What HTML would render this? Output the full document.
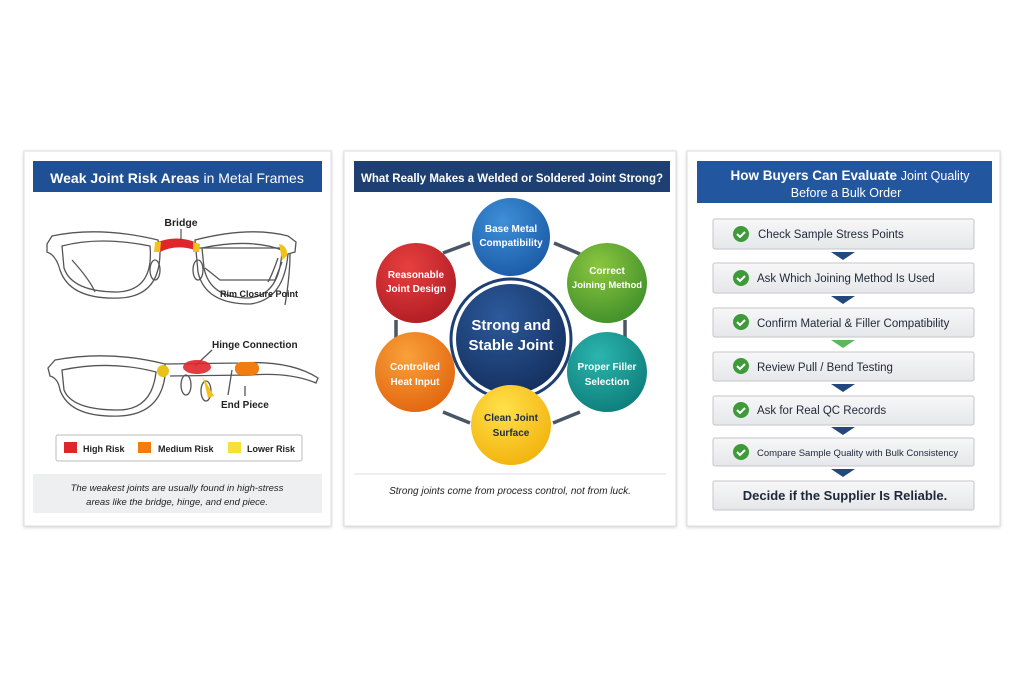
<!DOCTYPE html>
<html><head><meta charset="utf-8"><style>
body{margin:0;background:#fff}
svg{display:block}
text{font-family:"Liberation Sans",sans-serif}
</style></head><body>
<svg width="1024" height="683" viewBox="0 0 1024 683" xmlns="http://www.w3.org/2000/svg">
<defs>
<filter id="sh" x="-5%" y="-5%" width="110%" height="110%"><feDropShadow dx="0" dy="1" stdDeviation="1.5" flood-color="#000" flood-opacity="0.18"/></filter>
<radialGradient id="gb" cx="40%" cy="30%" r="75%"><stop offset="0" stop-color="#3f8fd8"/><stop offset="1" stop-color="#1a5aa6"/></radialGradient>
<radialGradient id="gg" cx="40%" cy="30%" r="75%"><stop offset="0" stop-color="#8cc640"/><stop offset="1" stop-color="#3f8f2a"/></radialGradient>
<radialGradient id="gt" cx="40%" cy="30%" r="75%"><stop offset="0" stop-color="#2cb5ad"/><stop offset="1" stop-color="#0d7d7a"/></radialGradient>
<radialGradient id="gy" cx="40%" cy="30%" r="75%"><stop offset="0" stop-color="#ffe14a"/><stop offset="1" stop-color="#f2b20c"/></radialGradient>
<radialGradient id="go" cx="40%" cy="30%" r="75%"><stop offset="0" stop-color="#f9a13a"/><stop offset="1" stop-color="#e2650f"/></radialGradient>
<radialGradient id="gr" cx="40%" cy="30%" r="75%"><stop offset="0" stop-color="#e84040"/><stop offset="1" stop-color="#b01c24"/></radialGradient>
<radialGradient id="gn" cx="40%" cy="30%" r="75%"><stop offset="0" stop-color="#2c5a9c"/><stop offset="1" stop-color="#142f5e"/></radialGradient>
<linearGradient id="rowg" x1="0" y1="0" x2="0" y2="1"><stop offset="0" stop-color="#f7f7f8"/><stop offset="1" stop-color="#e6e7ea"/></linearGradient>
</defs>

<!-- Panel 1 -->
<rect x="24" y="151" width="307" height="375" fill="#fff" stroke="#dcdde0" filter="url(#sh)"/>
<rect x="33" y="161" width="289" height="31" fill="#1f4f94"/>
<text x="177" y="183" text-anchor="middle" fill="#fff" font-size="14" font-weight="bold">Weak Joint Risk Areas <tspan font-weight="normal">in Metal Frames</tspan></text>

<g fill="none" stroke="#555" stroke-width="1.3">
<path d="M47 244 L52 236 Q100 226 158 240 L160 252 Q160 296 120 298 Q70 300 60 270 Q56 255 47 252 Z"/>
<path d="M62 246 Q100 236 150 246 Q154 290 118 292 Q72 292 64 268 Z"/>
<path d="M195 240 Q250 226 288 236 L296 242 L295 252 L288 254 Q284 300 250 304 Q205 304 198 272 Z"/>
<path d="M202 248 Q250 238 282 250 Q280 296 248 298 Q210 298 204 268 Z"/>
<path d="M72 260 Q90 280 95 292"/>
<path d="M278 258 Q272 275 268 282"/>
<path d="M290 254 Q290 275 285 305"/>
<ellipse cx="155" cy="270" rx="5" ry="10"/>
<ellipse cx="198" cy="270" rx="5" ry="10"/>
<path d="M195 248 L285 248"/>
<path d="M205 268 L220 280 L275 280 L282 262"/>
<path d="M48 368 L55 360 Q110 350 165 364 L165 376 Q160 414 120 416 Q70 418 60 390 Q58 378 50 376 Z"/>
<path d="M62 370 Q110 360 156 372 Q152 410 118 410 Q72 410 64 390 Z"/>
<path d="M165 364 L240 363 Q290 360 318 378 L316 383 Q290 372 250 375 L170 376"/>
<ellipse cx="186" cy="385" rx="5" ry="10"/>
<ellipse cx="206" cy="391" rx="5" ry="10"/>
<path d="M245 386 L245 396"/>
<path d="M232 370 L228 395"/>
<path d="M195 366 L212 350"/>
</g>
<path d="M158 242 Q176 235 195 242 L195 250 Q176 244 160 252 Z" fill="#e0262a"/>
<path d="M155 242 L161 242 L160 252 L154 252 Z" fill="#f2c21a"/>
<path d="M193 242 L200 244 L199 252 L193 252 Z" fill="#f2c21a"/>
<path d="M279 244 Q288 246 287 256 L282 260 Z" fill="#f2c21a"/>
<ellipse cx="163" cy="371" rx="6" ry="6" fill="#e6c21a"/>
<ellipse cx="197" cy="367" rx="14" ry="7" fill="#e0262a" opacity="0.9"/>
<rect x="235" y="362" width="24" height="13" rx="6" fill="#f07c12"/>
<path d="M203 377 L214 396 L208 398 Z" fill="#f2c21a"/>
<g font-size="10.5" font-weight="bold" fill="#222">
<text x="181" y="226" text-anchor="middle">Bridge</text>
<line x1="181" y1="229" x2="181" y2="240" stroke="#333"/>
<text x="220" y="297" font-size="9">Rim Closure Point</text>
<text x="212" y="348" font-size="10">Hinge Connection</text>
<text x="221" y="408" font-size="10">End Piece</text>
</g>
<rect x="56" y="435" width="246" height="26" rx="2" fill="#fff" stroke="#bbb"/>
<rect x="64" y="442" width="13" height="11" fill="#e0262a"/>
<rect x="138" y="442" width="13" height="11" fill="#f07c12"/>
<rect x="228" y="442" width="13" height="11" fill="#f7e03a"/>
<g font-size="9" font-weight="bold" fill="#222">
<text x="83" y="452">High Risk</text>
<text x="158" y="452">Medium Risk</text>
<text x="247" y="452">Lower Risk</text>
</g>
<rect x="33" y="474" width="289" height="39" fill="#eeeff1"/>
<text x="177" y="491" text-anchor="middle" font-size="9.5" font-style="italic" fill="#222">The weakest joints are usually found in high-stress</text>
<text x="177" y="505" text-anchor="middle" font-size="9.5" font-style="italic" fill="#222">areas like the bridge, hinge, and end piece.</text>

<!-- Panel 2 -->
<rect x="344" y="151" width="332" height="375" fill="#fff" stroke="#dcdde0" filter="url(#sh)"/>
<rect x="354" y="161" width="316" height="31" fill="#1d3f72"/>
<text x="512" y="182" text-anchor="middle" fill="#fff" font-size="11.5" font-weight="bold">What Really Makes a Welded or Soldered Joint Strong?</text>
<g stroke="#4a5566" stroke-width="3.5" fill="none">
<line x1="443" y1="253" x2="470" y2="243"/>
<line x1="554" y1="243" x2="580" y2="254"/>
<line x1="625" y1="320" x2="625" y2="340"/>
<line x1="580" y1="412" x2="553" y2="423"/>
<line x1="470" y1="423" x2="443" y2="412"/>
<line x1="396" y1="320" x2="396" y2="340"/>
</g>
<circle cx="511" cy="339" r="60" fill="#fff" stroke="#1d3f72" stroke-width="3"/>
<circle cx="511" cy="339" r="55" fill="url(#gn)"/>
<text x="511" y="330" text-anchor="middle" fill="#fff" font-size="15" font-weight="bold">Strong and</text>
<text x="511" y="350" text-anchor="middle" fill="#fff" font-size="15" font-weight="bold">Stable Joint</text>
<g font-size="10" font-weight="bold" text-anchor="middle" fill="#fff">
<circle cx="511" cy="237" r="39" fill="url(#gb)"/>
<text x="511" y="232">Base Metal</text><text x="511" y="246">Compatibility</text>
<circle cx="607" cy="283" r="40" fill="url(#gg)"/>
<text x="607" y="274">Correct</text><text x="607" y="288" font-size="9.5">Joining Method</text>
<circle cx="607" cy="372" r="40" fill="url(#gt)"/>
<text x="607" y="370">Proper Filler</text><text x="607" y="385">Selection</text>
<circle cx="511" cy="425" r="40" fill="url(#gy)"/>
<text x="511" y="421" fill="#1d2d48">Clean Joint</text><text x="511" y="436" fill="#1d2d48">Surface</text>
<circle cx="415" cy="372" r="40" fill="url(#go)"/>
<text x="415" y="370">Controlled</text><text x="415" y="385">Heat Input</text>
<circle cx="416" cy="283" r="40" fill="url(#gr)"/>
<text x="416" y="278">Reasonable</text><text x="416" y="292">Joint Design</text>
</g>
<line x1="354" y1="474" x2="666" y2="474" stroke="#ddd"/>
<text x="510" y="494" text-anchor="middle" font-size="10" font-style="italic" fill="#222">Strong joints come from process control, not from luck.</text>

<!-- Panel 3 -->
<rect x="687" y="151" width="313" height="375" fill="#fff" stroke="#dcdde0" filter="url(#sh)"/>
<rect x="697" y="161" width="295" height="42" fill="#2257a0"/>
<text x="850" y="180" text-anchor="middle" fill="#fff" font-size="13.5" font-weight="bold">How Buyers Can Evaluate <tspan font-weight="normal" font-size="12.5">Joint Quality</tspan></text>
<text x="846" y="197" text-anchor="middle" fill="#fff" font-size="12.5">Before a Bulk Order</text>
<g>
<rect x="713" y="219" width="261" height="30" rx="2" fill="url(#rowg)" stroke="#c4c6ca"/>
<rect x="713" y="263" width="261" height="30" rx="2" fill="url(#rowg)" stroke="#c4c6ca"/>
<rect x="713" y="308" width="261" height="29" rx="2" fill="url(#rowg)" stroke="#c4c6ca"/>
<rect x="713" y="352" width="261" height="29" rx="2" fill="url(#rowg)" stroke="#c4c6ca"/>
<rect x="713" y="396" width="261" height="29" rx="2" fill="url(#rowg)" stroke="#c4c6ca"/>
<rect x="713" y="438" width="261" height="28" rx="2" fill="url(#rowg)" stroke="#c4c6ca"/>
<rect x="713" y="481" width="261" height="29" rx="2" fill="url(#rowg)" stroke="#c4c6ca"/>
</g>
<g fill="#22487e">
<path d="M831 252 L855 252 L843 260 Z"/>
<path d="M831 296 L855 296 L843 304 Z"/>
<path d="M831 340 L855 340 L843 348" fill="#5cb85c"/>
<path d="M831 384 L855 384 L843 392 Z"/>
<path d="M831 427 L855 427 L843 435 Z"/>
<path d="M831 469 L855 469 L843 477 Z"/>
</g>
<g>
<circle cx="741" cy="234" r="8" fill="#3f9a3a"/>
<circle cx="741" cy="278" r="8" fill="#3f9a3a"/>
<circle cx="741" cy="322" r="8" fill="#3f9a3a"/>
<circle cx="741" cy="366" r="8" fill="#3f9a3a"/>
<circle cx="741" cy="410" r="8" fill="#3f9a3a"/>
<circle cx="741" cy="452" r="8" fill="#3f9a3a"/>
</g>
<g stroke="#fff" stroke-width="2" fill="none">
<path d="M737 234 l3 3 l5 -5"/><path d="M737 278 l3 3 l5 -5"/><path d="M737 322 l3 3 l5 -5"/>
<path d="M737 366 l3 3 l5 -5"/><path d="M737 410 l3 3 l5 -5"/><path d="M737 452 l3 3 l5 -5"/>
</g>
<g font-size="11.5" fill="#1d2838">
<text x="758" y="238">Check Sample Stress Points</text>
<text x="757" y="282">Ask Which Joining Method Is Used</text>
<text x="757" y="327">Confirm Material &amp; Filler Compatibility</text>
<text x="757" y="371">Review Pull / Bend Testing</text>
<text x="757" y="414">Ask for Real QC Records</text>
<text x="757" y="456" font-size="9.5">Compare Sample Quality with Bulk Consistency</text>
<text x="845" y="500" text-anchor="middle" font-size="13" font-weight="bold">Decide if the Supplier Is Reliable.</text>
</g>
</svg>
</body></html>
